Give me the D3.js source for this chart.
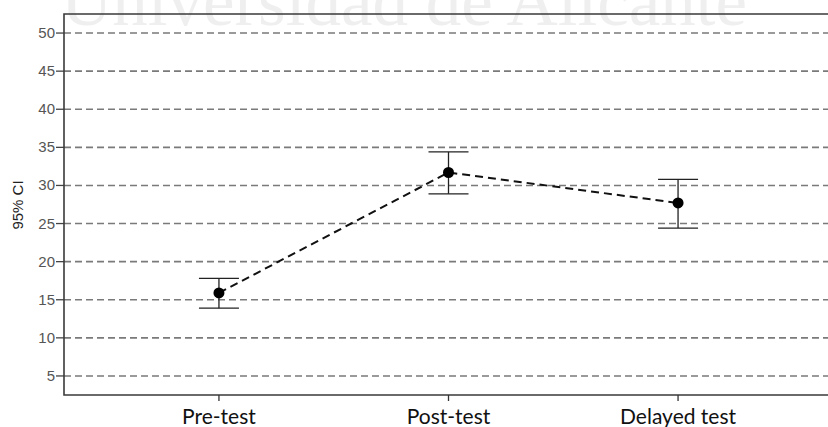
<html>
<head>
<script src="https://d3js.org/d3.v7.min.js"></script>
<style>
  body { margin: 0; background: #fff; }
  svg { display: block; }
  .grid line { stroke: #7a7a7a; stroke-width: 1.6; stroke-dasharray: 7,4; }
  .ytick text { font-family: "Liberation Sans", Arial, sans-serif; font-size: 15px; fill: #555; }
  .cat { font-family: Lato, "Open Sans", sans-serif; font-size: 21px; fill: #111; }
</style>
</head>
<body>
<svg id="chart" width="828" height="427"></svg>
<script>
// data
const phases = ["Pre-test", "Post-test", "Delayed test"];
const means  = [15.9, 31.7, 27.7];
const upper  = [17.8, 34.4, 30.8];
const lower  = [13.9, 28.9, 24.4];
const yTicks = [5, 10, 15, 20, 25, 30, 35, 40, 45, 50];

const svg = d3.select("#chart");
const plotL = 64, plotT = 14, plotR = 833, plotB = 395;

// watermark behind everything (top half runs off the page, as in the scan)
svg.append("text")
    .text("Universidad de Alicante")
    .attr("x", 404)
    .attr("y", 25)
    .attr("text-anchor", "middle")
    .attr("font-family", "Liberation Serif, Times New Roman, serif")
    .attr("font-size", 71)
    .attr("fill", "#efefef");

let x = d3.scalePoint()
    .domain(phases)
    .range([plotL, plotR])
    .padding(0.675);

let y = d3.scaleLinear()
    .domain([2.5, 52.5])
    .range([plotB, plotT]);

// dashed grid
const grid = svg.append("g").attr("class", "grid");
grid.selectAll("line")
    .data(yTicks)
    .join("line")
    .attr("x1", plotL)
    .attr("x2", plotR)
    .attr("y1", d => y(d))
    .attr("y2", d => y(d));

// y ticks + labels
const yt = svg.append("g").attr("class", "ytick");
yt.selectAll("line")
    .data(yTicks)
    .join("line")
    .attr("x1", plotL - 8)
    .attr("x2", plotL)
    .attr("y1", d => y(d))
    .attr("y2", d => y(d))
    .attr("stroke", "#444")
    .attr("stroke-width", 1.3);
yt.selectAll("text")
    .data(yTicks)
    .join("text")
    .text(d => d)
    .attr("x", plotL - 9)
    .attr("y", d => y(d) + 5)
    .attr("text-anchor", "end");

// frame: left, top, bottom
svg.append("path")
    .attr("d", `M${plotR},${plotT}H${plotL}V${plotB}H${plotR}`)
    .attr("fill", "none")
    .attr("stroke", "#3a3a3a")
    .attr("stroke-width", 1.6);

// x ticks + category labels
svg.selectAll(".xtick")
    .data(phases)
    .join("line")
    .attr("class", "xtick")
    .attr("x1", d => x(d))
    .attr("x2", d => x(d))
    .attr("y1", plotB)
    .attr("y2", plotB + 6)
    .attr("stroke", "#333")
    .attr("stroke-width", 1.3);

svg.selectAll(".cat")
    .data(phases)
    .join("text")
    .attr("class", "cat")
    .text(d => d)
    .attr("x", d => x(d))
    .attr("y", 424)
    .attr("text-anchor", "middle");

// y title
svg.append("text")
    .text("95% CI")
    .attr("transform", "translate(23,205) rotate(-90)")
    .attr("text-anchor", "middle")
    .attr("font-family", "Liberation Sans, Arial, sans-serif")
    .attr("font-size", 15)
    .attr("fill", "#222");

// error bars
const bars = svg.append("g").attr("stroke", "#222").attr("stroke-width", 1.3);
phases.forEach((p, i) => {
    bars.append("line")
        .attr("x1", x(p)).attr("x2", x(p))
        .attr("y1", y(upper[i])).attr("y2", y(lower[i]));
    bars.append("line")
        .attr("x1", x(p) - 20).attr("x2", x(p) + 20)
        .attr("y1", y(upper[i])).attr("y2", y(upper[i]));
    bars.append("line")
        .attr("x1", x(p) - 20).attr("x2", x(p) + 20)
        .attr("y1", y(lower[i])).attr("y2", y(lower[i]));
});

// mean line
const line = d3.line()
    .x((d, i) => x(phases[i]))
    .y(d => y(d));

svg.append("path")
    .datum(means)
    .attr("d", line)
    .attr("fill", "none")
    .attr("stroke", "#111")
    .attr("stroke-width", 2)
    .attr("stroke-dasharray", "8,5");

svg.selectAll(".mean")
    .data(means)
    .join("circle")
    .attr("class", "mean")
    .attr("cx", (d, i) => x(phases[i]))
    .attr("cy", d => y(d))
    .attr("r", 5.5)
    .attr("fill", "#000");
</script>
</body>
</html>
